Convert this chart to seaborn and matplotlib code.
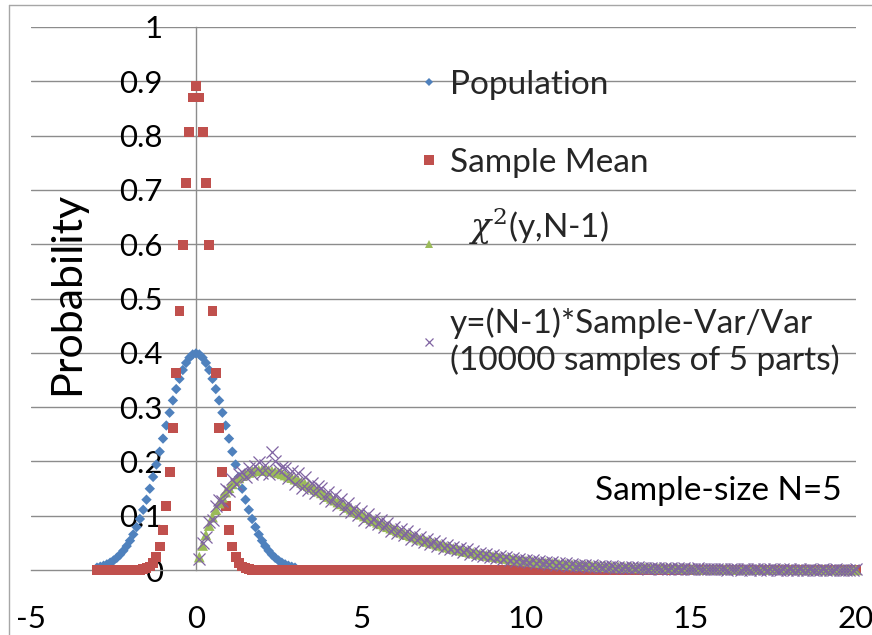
import numpy as np
import pandas as pd
import matplotlib
matplotlib.use("Agg")
import matplotlib.pyplot as plt
from matplotlib.lines import Line2D
import seaborn as sns

# ---------------- data ----------------
pop_x = np.round(np.arange(-30, 31) / 10.0, 1)
pop_y = [0.0044, 0.0060, 0.0079, 0.0104, 0.0136, 0.0175, 0.0224, 0.0283, 0.0355, 0.0440,
         0.0540, 0.0656, 0.0790, 0.0940, 0.1109, 0.1295, 0.1497, 0.1714, 0.1942, 0.2179,
         0.2420, 0.2661, 0.2897, 0.3123, 0.3332, 0.3521, 0.3683, 0.3814, 0.3910, 0.3970,
         0.3989,
         0.3970, 0.3910, 0.3814, 0.3683, 0.3521, 0.3332, 0.3123, 0.2897, 0.2661, 0.2420,
         0.2179, 0.1942, 0.1714, 0.1497, 0.1295, 0.1109, 0.0940, 0.0790, 0.0656, 0.0540,
         0.0440, 0.0355, 0.0283, 0.0224, 0.0175, 0.0136, 0.0104, 0.0079, 0.0060, 0.0044]

mean_x = np.round(np.arange(-30, 201) / 10.0, 1)
mean_y = [0.0, 0.0, 0.0, 0.0, 0.0, 0.0, 0.0, 0.0, 0.0, 0.0,
          0.0000, 0.0001, 0.0003, 0.0007, 0.0015, 0.0032, 0.0066, 0.0130, 0.0244, 0.0433,
          0.0732, 0.1178, 0.1801, 0.2621, 0.3627, 0.4775, 0.5980, 0.7124, 0.8072, 0.8701,
          0.8921,
          0.8701, 0.8072, 0.7124, 0.5980, 0.4775, 0.3627, 0.2621, 0.1801, 0.1178, 0.0732,
          0.0433, 0.0244, 0.0130, 0.0066, 0.0032, 0.0015, 0.0007, 0.0003, 0.0001, 0.0000,
          0.0, 0.0, 0.0, 0.0, 0.0, 0.0, 0.0, 0.0, 0.0, 0.0,
          0.0, 0.0, 0.0, 0.0, 0.0, 0.0, 0.0, 0.0, 0.0, 0.0,
          0.0, 0.0, 0.0, 0.0, 0.0, 0.0, 0.0, 0.0, 0.0, 0.0,
          0.0, 0.0, 0.0, 0.0, 0.0, 0.0, 0.0, 0.0, 0.0, 0.0,
          0.0, 0.0, 0.0, 0.0, 0.0, 0.0, 0.0, 0.0, 0.0, 0.0,
          0.0, 0.0, 0.0, 0.0, 0.0, 0.0, 0.0, 0.0, 0.0, 0.0,
          0.0, 0.0, 0.0, 0.0, 0.0, 0.0, 0.0, 0.0, 0.0, 0.0,
          0.0, 0.0, 0.0, 0.0, 0.0, 0.0, 0.0, 0.0, 0.0, 0.0,
          0.0, 0.0, 0.0, 0.0, 0.0, 0.0, 0.0, 0.0, 0.0, 0.0,
          0.0, 0.0, 0.0, 0.0, 0.0, 0.0, 0.0, 0.0, 0.0, 0.0,
          0.0, 0.0, 0.0, 0.0, 0.0, 0.0, 0.0, 0.0, 0.0, 0.0,
          0.0, 0.0, 0.0, 0.0, 0.0, 0.0, 0.0, 0.0, 0.0, 0.0,
          0.0, 0.0, 0.0, 0.0, 0.0, 0.0, 0.0, 0.0, 0.0, 0.0,
          0.0, 0.0, 0.0, 0.0, 0.0, 0.0, 0.0, 0.0, 0.0, 0.0,
          0.0, 0.0, 0.0, 0.0, 0.0, 0.0, 0.0, 0.0, 0.0, 0.0,
          0.0, 0.0, 0.0, 0.0, 0.0, 0.0, 0.0, 0.0, 0.0, 0.0,
          0.0, 0.0, 0.0, 0.0, 0.0, 0.0, 0.0, 0.0, 0.0, 0.0,
          0.0, 0.0, 0.0, 0.0, 0.0, 0.0, 0.0, 0.0, 0.0, 0.0]

chi_x = np.round(np.arange(1, 201) / 10.0, 1)
chi_y = [0.0238, 0.0452, 0.0646, 0.0819, 0.0974, 0.1111, 0.1233, 0.1341, 0.1435, 0.1516,
         0.1587, 0.1646, 0.1697, 0.1738, 0.1771, 0.1797, 0.1817, 0.1830, 0.1837, 0.1839,
         0.1837, 0.1831, 0.1821, 0.1807, 0.1791, 0.1771, 0.1750, 0.1726, 0.1701, 0.1673,
         0.1645, 0.1615, 0.1584, 0.1553, 0.1520, 0.1488, 0.1454, 0.1421, 0.1387, 0.1353,
         0.1320, 0.1286, 0.1252, 0.1219, 0.1186, 0.1153, 0.1121, 0.1089, 0.1057, 0.1026,
         0.0995, 0.0965, 0.0936, 0.0907, 0.0879, 0.0851, 0.0824, 0.0798, 0.0772, 0.0747,
         0.0722, 0.0698, 0.0675, 0.0652, 0.0630, 0.0608, 0.0588, 0.0567, 0.0548, 0.0528,
         0.0510, 0.0492, 0.0474, 0.0457, 0.0441, 0.0425, 0.0410, 0.0395, 0.0380, 0.0366,
         0.0353, 0.0340, 0.0327, 0.0315, 0.0303, 0.0292, 0.0281, 0.0270, 0.0260, 0.0250,
         0.0240, 0.0231, 0.0222, 0.0214, 0.0205, 0.0198, 0.0190, 0.0182, 0.0175, 0.0168,
         0.0162, 0.0155, 0.0149, 0.0143, 0.0138, 0.0132, 0.0127, 0.0122, 0.0117, 0.0112,
         0.0108, 0.0104, 0.0099, 0.0095, 0.0092, 0.0088, 0.0084, 0.0081, 0.0078, 0.0074,
         0.0071, 0.0068, 0.0066, 0.0063, 0.0060, 0.0058, 0.0055, 0.0053, 0.0051, 0.0049,
         0.0047, 0.0045, 0.0043, 0.0041, 0.0040, 0.0038, 0.0036, 0.0035, 0.0033, 0.0032,
         0.0031, 0.0029, 0.0028, 0.0027, 0.0026, 0.0025, 0.0024, 0.0023, 0.0022, 0.0021,
         0.0020, 0.0019, 0.0018, 0.0017, 0.0017, 0.0016, 0.0015, 0.0015, 0.0014, 0.0013,
         0.0013, 0.0012, 0.0012, 0.0011, 0.0011, 0.0010, 0.0010, 0.0009, 0.0009, 0.0009,
         0.0008, 0.0008, 0.0008, 0.0007, 0.0007, 0.0007, 0.0006, 0.0006, 0.0006, 0.0006,
         0.0005, 0.0005, 0.0005, 0.0005, 0.0004, 0.0004, 0.0004, 0.0004, 0.0004, 0.0004,
         0.0003, 0.0003, 0.0003, 0.0003, 0.0003, 0.0003, 0.0003, 0.0003, 0.0002, 0.0002]

sim_x = np.round(np.arange(1, 201) / 10.0, 1)
sim_y = [0.021, 0.049, 0.060, 0.088, 0.093, 0.118, 0.129, 0.127, 0.150, 0.146,
         0.168, 0.158, 0.176, 0.181, 0.172, 0.188, 0.177, 0.192, 0.198, 0.179,
         0.193, 0.176, 0.217, 0.200, 0.185, 0.190, 0.188, 0.169, 0.183, 0.159,
         0.179, 0.151, 0.171, 0.148, 0.160, 0.141, 0.154, 0.151, 0.133, 0.143,
         0.127, 0.138, 0.119, 0.131, 0.112, 0.124, 0.106, 0.115, 0.101, 0.108,
         0.093, 0.104, 0.089, 0.096, 0.084, 0.092, 0.079, 0.086, 0.071, 0.080,
         0.068, 0.075, 0.064, 0.071, 0.058, 0.066, 0.055, 0.061, 0.051, 0.057,
         0.048, 0.054, 0.045, 0.050, 0.041, 0.046, 0.038, 0.043, 0.036, 0.040,
         0.033, 0.038, 0.030, 0.035, 0.028, 0.032, 0.026, 0.030, 0.024, 0.028,
         0.022, 0.026, 0.020, 0.024, 0.019, 0.022, 0.017, 0.021, 0.016, 0.019,
         0.014, 0.018, 0.013, 0.016, 0.012, 0.015, 0.011, 0.014, 0.010, 0.013,
         0.009, 0.012, 0.008, 0.011, 0.008, 0.010, 0.007, 0.009, 0.006, 0.009,
         0.006, 0.008, 0.005, 0.007, 0.005, 0.007, 0.004, 0.006, 0.004, 0.006,
         0.003, 0.005, 0.004, 0.005, 0.003, 0.004, 0.002, 0.004, 0.003, 0.004,
         0.002, 0.003, 0.002, 0.004, 0.002, 0.003, 0.001, 0.003, 0.002, 0.002,
         0.001, 0.003, 0.001, 0.002, 0.001, 0.002, 0.001, 0.002, 0.001, 0.002,
         0.000, 0.001, 0.001, 0.002, 0.000, 0.001, 0.001, 0.000, 0.001, 0.001,
         0.000, 0.001, 0.000, 0.001, 0.001, 0.000, 0.000, 0.001, 0.000, 0.001,
         0.000, 0.000, 0.001, 0.000, 0.000, 0.001, 0.000, 0.000, 0.000, 0.001,
         0.000, 0.000, 0.000, 0.001, 0.000, 0.000, 0.000, 0.000, 0.000, 0.001]

series_labels = ["Population", "Sample Mean", r"$\chi^{2}$(y,N-1)",
                 "y=(N-1)*Sample-Var/Var\n(10000 samples of 5 parts)"]
x_ticks = [-5, 0, 5, 10, 15, 20]
x_tick_labels = ["-5", "0", "5", "10", "15", "20"]
y_ticks = [0.0, 0.1, 0.2, 0.3, 0.4, 0.5, 0.6, 0.7, 0.8, 0.9, 1.0]
y_tick_labels = ["0", "0.1", "0.2", "0.3", "0.4", "0.5", "0.6", "0.7", "0.8", "0.9", "1"]
y_label = "Probability"
note = "Sample-size N=5"

assert len(pop_y) == len(pop_x)
assert len(mean_y) == len(mean_x)
assert len(chi_y) == len(chi_x)
assert len(sim_y) == len(sim_x)

df_pop = pd.DataFrame({"x": pop_x, "y": pop_y})
df_mean = pd.DataFrame({"x": mean_x, "y": mean_y})
df_chi = pd.DataFrame({"x": chi_x, "y": chi_y})
df_sim = pd.DataFrame({"x": sim_x, "y": sim_y})

# ---------------- style ----------------
sns.set_theme(style="white")
plt.rcParams["font.family"] = ["Lato", "DejaVu Sans"]
plt.rcParams["mathtext.fontset"] = "dejavuserif"

BLUE = "#4F81BD"
RED = "#C0504D"
GREEN = "#9BBB59"
PURPLE = "#8064A2"
GRID = "#8c8c8c"

W, H = 872, 635
fig = plt.figure(figsize=(W / 100, H / 100), dpi=100)
fig.patch.set_facecolor("white")
ax = fig.add_axes([31 / W, 1 - 570 / H, (856 - 31) / W, (570 - 27) / H])
ax.set_facecolor("white")

# gridlines (below data)
for yv in y_ticks[1:]:
    ax.axhline(yv, color=GRID, lw=1.0, zorder=0.5)

sns.scatterplot(data=df_pop, x="x", y="y", marker="D", s=28, color=BLUE,
                edgecolor="none", linewidth=0, ax=ax, zorder=2, clip_on=False)
sns.scatterplot(data=df_mean, x="x", y="y", marker="s", s=50, color=RED,
                edgecolor="none", linewidth=0, ax=ax, zorder=2.1, clip_on=False)
sns.scatterplot(data=df_chi, x="x", y="y", marker="^", s=60, color=GREEN,
                edgecolor="none", linewidth=0, ax=ax, zorder=2.2, clip_on=False)
sns.scatterplot(data=df_sim, x="x", y="y", marker="x", s=75, color=PURPLE,
                linewidth=0.9, ax=ax, zorder=2.3, clip_on=False)

ax.set_xlim(-5, 20)
ax.set_ylim(0, 1)
ax.set_xlabel("")
ax.set_ylabel("")

for side in ["top", "right"]:
    ax.spines[side].set_visible(False)
ax.spines["left"].set_position(("data", 0))
ax.spines["bottom"].set_position(("data", 0))
for side in ["left", "bottom"]:
    ax.spines[side].set_color(GRID)
    ax.spines[side].set_linewidth(1.0)
    ax.spines[side].set_zorder(1)

ax.set_xticks(x_ticks)
ax.set_xticklabels(x_tick_labels)
ax.set_yticks(y_ticks)
ax.set_yticklabels(y_tick_labels)
ax.tick_params(axis="x", direction="out", length=7, width=1, color=GRID,
               labelsize=22.5, pad=18, labelcolor="black")
ax.tick_params(axis="y", direction="out", length=8, width=1, color=GRID,
               labelsize=22.5, pad=16, labelcolor="black")

fig.text(67 / W, 1 - 293 / H, y_label, rotation=90, ha="center", va="center",
         fontsize=31, color="black")
fig.text(842 / W, 1 - 491 / H, note, ha="right", va="center", fontsize=24,
         color="black")

# legend: one library legend per entry, positioned like the original
handles = [
    Line2D([], [], marker="D", color=BLUE, linestyle="None", markersize=4, markeredgewidth=0),
    Line2D([], [], marker="s", color=RED, linestyle="None", markersize=7, markeredgewidth=0),
    Line2D([], [], marker="^", color=GREEN, linestyle="None", markersize=6, markeredgewidth=0),
    Line2D([], [], marker="x", color=PURPLE, linestyle="None", markersize=6, markeredgewidth=0.9),
]
legend_labels = [series_labels[0], series_labels[1], series_labels[2] + "\n",
                 series_labels[3]]
centers_y = [85, 163, 244, 342]
pads = [0.27, 0.27, 0.85, 0.27]
legs = []
for h, lab, cy, pd_ in zip(handles, legend_labels, centers_y, pads):
    leg = fig.legend(handles=[h], labels=[lab], loc="center left",
                     bbox_to_anchor=(416 / W, 1 - cy / H), bbox_transform=fig.transFigure,
                     frameon=False, fontsize=24, handlelength=0.75,
                     handletextpad=pd_, borderpad=0, borderaxespad=0)
    for t in leg.get_texts():
        t.set_linespacing(1.2)
    legs.append(leg)

# outer chart border (top and left visible)
fig.add_artist(Line2D([9 / W, 1], [1 - 5 / H, 1 - 5 / H], transform=fig.transFigure,
                      color="#a6a6a6", lw=1.0))
fig.add_artist(Line2D([9 / W, 9 / W], [1 - 5 / H, 0], transform=fig.transFigure,
                      color="#a6a6a6", lw=1.0))

fig.savefig("out.png", dpi=100, facecolor="white")
